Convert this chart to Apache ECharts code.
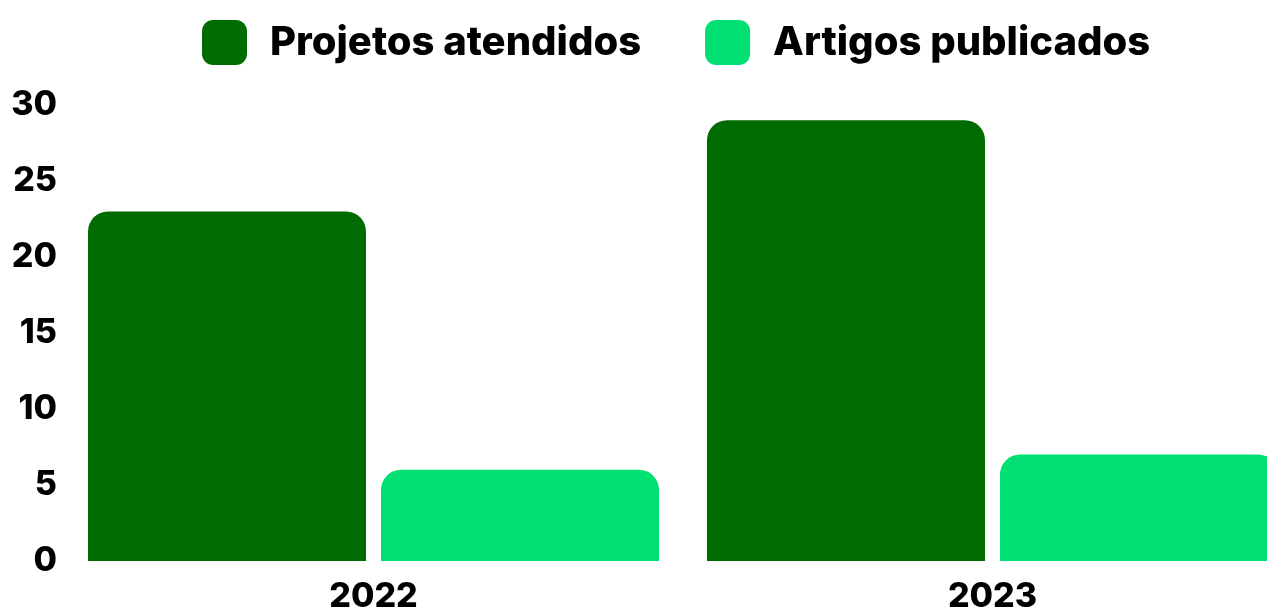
<!DOCTYPE html>
<html>
<head>
<meta charset="utf-8">
<script src="https://cdn.jsdelivr.net/npm/echarts@6/dist/echarts.min.js"></script>
<style>
html,body{margin:0;padding:0;background:#fff;overflow:hidden;}
#chart{width:1267px;height:610px;}
</style>
</head>
<body>
<div id="chart"></div>
<script>
const categories = ['2022', '2023'];
const projetos = [23, 29];
const artigos = [6, 7];
const yTicks = [0, 5, 10, 15, 20, 25, 30];

const FONT = 'Inter';
const chart = echarts.init(document.getElementById('chart'));
chart.setOption({
  animation: false,
  legend: {
    top: 15,
    left: 197,
    itemWidth: 45,
    itemHeight: 45,
    itemGap: 64,
    icon: 'roundRect',
    textStyle: {fontFamily: FONT, fontWeight: 800, fontSize: 40, color: '#000', padding: [0, 0, 0, 18]},
    data: ['Projetos atendidos', 'Artigos publicados']
  },
  grid: {left: 64, top: 105, width: 1238, height: 456, containLabel: false, outerBoundsMode: 'none'},
  xAxis: {
    type: 'category',
    data: categories,
    axisLine: {show: false},
    axisTick: {show: false},
    axisLabel: {fontFamily: FONT, fontWeight: 800, fontSize: 34, color: '#000', margin: 19}
  },
  yAxis: {
    type: 'value',
    min: yTicks[0],
    max: yTicks[yTicks.length - 1],
    interval: 5,
    splitLine: {show: false},
    axisLine: {show: false},
    axisTick: {show: false},
    axisLabel: {fontFamily: FONT, fontWeight: 800, fontSize: 34, color: '#000', margin: 7}
  },
  series: [
    {name: 'Projetos atendidos', type: 'bar', data: projetos, barWidth: 278, barGap: '5.4%',
     itemStyle: {color: '#006b00', borderRadius: [20, 20, 0, 0]}},
    {name: 'Artigos publicados', type: 'bar', data: artigos, barWidth: 278,
     itemStyle: {color: '#00df72', borderRadius: [20, 20, 0, 0]}}
  ]
});
</script>
</body>
</html>
